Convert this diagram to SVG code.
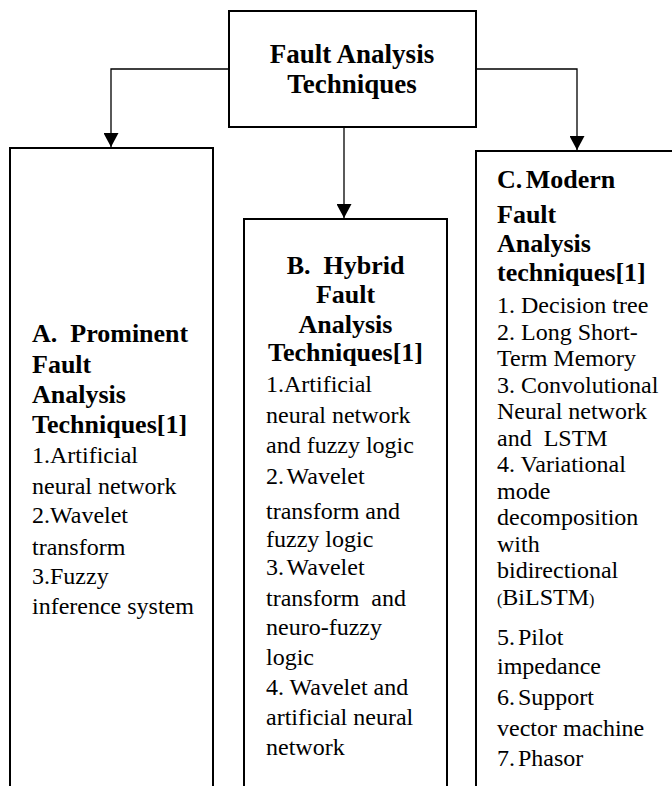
<svg xmlns="http://www.w3.org/2000/svg" width="672" height="786" viewBox="0 0 672 786">
<style>
.box{fill:#fff;stroke:#000;stroke-width:2}
.conn{fill:none;stroke:#000;stroke-width:1.3}
text{font-family:'Liberation Serif','DejaVu Serif',serif;fill:#000}
.h{font-weight:bold;font-size:26px}
.t{font-size:24px}
.mid{text-anchor:middle}
.p{font-size:16px}
.ns{word-spacing:-3px}
</style>
<defs>
<marker id="arr" markerUnits="userSpaceOnUse" viewBox="0 0 14 15" markerWidth="14" markerHeight="15" refX="14" refY="7.5" orient="auto">
<path d="M0,0 L14,7.5 L0,15 Z" fill="#000"/>
</marker>
</defs>
<rect width="672" height="786" fill="#fff"/>
<g id="connectors">
<polyline class="conn" points="229,69 111,69 111,147" marker-end="url(#arr)"/>
<polyline class="conn" points="476,69 577,69 577,150" marker-end="url(#arr)"/>
<line class="conn" x1="344" y1="127" x2="344" y2="218" marker-end="url(#arr)"/>
</g>
<g id="root">
<rect class="box" x="229" y="11" width="247" height="116"/>
<text class="h mid" x="352" y="63" style="font-size:27px">Fault Analysis</text>
<text class="h mid" x="352" y="93" style="font-size:27px">Techniques</text>
</g>
<g id="nodeA">
<rect class="box" x="10" y="148" width="203" height="660"/>
<text class="h" x="32" y="342">A.&#160; Prominent</text>
<text class="h" x="32" y="373">Fault</text>
<text class="h" x="32" y="403">Analysis</text>
<text class="h" x="32" y="433">Techniques[1]</text>
<text class="t" x="32" y="463">1.Artificial</text>
<text class="t" x="32" y="494">neural network</text>
<text class="t" x="32" y="523">2.Wavelet</text>
<text class="t" x="32" y="555">transform</text>
<text class="t" x="32" y="584">3.Fuzzy</text>
<text class="t" x="32" y="614">inference system</text>
</g>
<g id="nodeB">
<rect class="box" x="244" y="219" width="203" height="600"/>
<text class="h mid" x="345.5" y="274">B.&#160; Hybrid</text>
<text class="h mid" x="345.5" y="303">Fault</text>
<text class="h mid" x="345.5" y="333">Analysis</text>
<text class="h mid" x="345.5" y="361">Techniques[1]</text>
<text class="t" x="266" y="392">1.Artificial</text>
<text class="t" x="266" y="423">neural network</text>
<text class="t" x="266" y="453">and fuzzy logic</text>
<text class="t ns" x="266" y="484">2. Wavelet</text>
<text class="t" x="266" y="519">transform and</text>
<text class="t" x="266" y="547">fuzzy logic</text>
<text class="t ns" x="266" y="575">3. Wavelet</text>
<text class="t" x="266" y="606">transform&#160; and</text>
<text class="t" x="266" y="635">neuro-fuzzy</text>
<text class="t" x="266" y="665">logic</text>
<text class="t" x="266" y="695">4. Wavelet and</text>
<text class="t" x="266" y="725">artificial neural</text>
<text class="t" x="266" y="755">network</text>
</g>
<g id="nodeC">
<rect class="box" x="476" y="151" width="210" height="660"/>
<text class="h ns" x="497" y="188">C. Modern</text>
<text class="h" x="497" y="223">Fault</text>
<text class="h" x="497" y="252">Analysis</text>
<text class="h" x="497" y="281">techniques[1]</text>
<text class="t" x="497" y="313">1. Decision tree</text>
<text class="t" x="497" y="339.5">2. Long Short-</text>
<text class="t" x="497" y="366">Term Memory</text>
<text class="t" x="497" y="392.5">3. Convolutional</text>
<text class="t" x="497" y="419">Neural network</text>
<text class="t" x="497" y="445.5">and&#160; LSTM</text>
<text class="t" x="497" y="472">4. Variational</text>
<text class="t" x="497" y="498.5">mode</text>
<text class="t" x="497" y="525">decomposition</text>
<text class="t" x="497" y="551.5">with</text>
<text class="t" x="497" y="578">bidirectional</text>
<text class="t" x="497" y="604.5"><tspan class="p">(</tspan>BiLSTM<tspan class="p">)</tspan></text>
<text class="t ns" x="497" y="645">5. Pilot</text>
<text class="t" x="497" y="674">impedance</text>
<text class="t ns" x="497" y="705">6. Support</text>
<text class="t" x="497" y="736">vector machine</text>
<text class="t ns" x="497" y="766">7. Phasor</text>
</g>
</svg>
